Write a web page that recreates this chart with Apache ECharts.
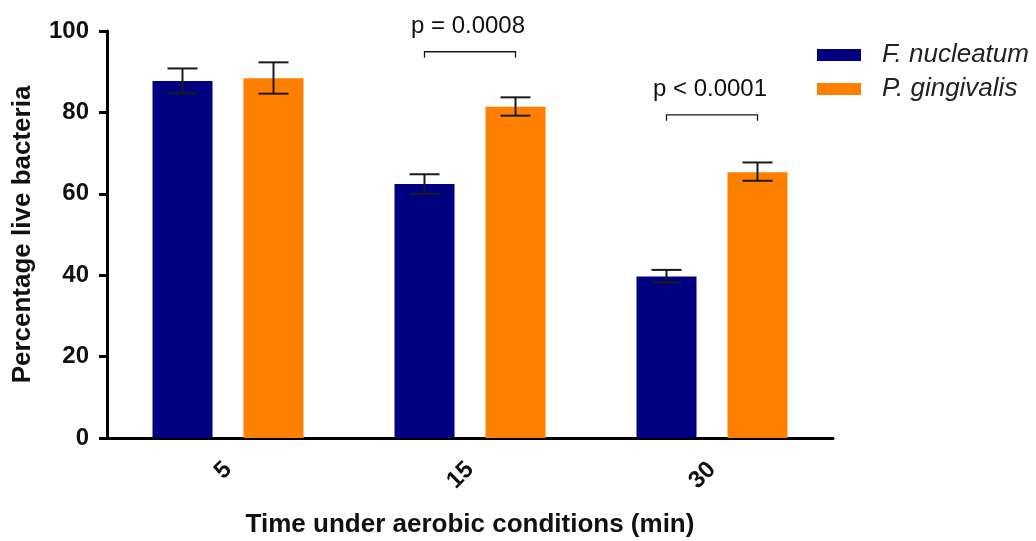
<!DOCTYPE html>
<html>
<head>
<meta charset="utf-8">
<title>Percentage live bacteria</title>
<script src="https://cdn.jsdelivr.net/npm/echarts@6/dist/echarts.min.js"></script>
<style>
  html, body { margin: 0; padding: 0; background: #fff; }
  #chart { width: 1036px; height: 541px; }
</style>
</head>
<body>
<div id="chart"></div>
<script>
// Exposure times (min)
const categories = ['5', '15', '30'];
const seriesNames = ['F. nucleatum', 'P. gingivalis'];

// Mean percentage of live bacteria
const fnMean = [87.7, 62.4, 39.7];
const pgMean = [88.4, 81.4, 65.3];
// Error bar extents (lower, upper)
const fnLow = [84.7, 60.0, 38.2];
const fnHigh = [90.8, 64.8, 41.3];
const pgLow = [84.6, 79.2, 63.2];
const pgHigh = [92.3, 83.7, 67.7];

// Significance brackets: category index, bracket height, label
const compCategory = [1, 2];
const compLevel = [94.9, 79.4];
const compLabel = ['p = 0.0008', 'p < 0.0001'];

const yTicks = [0, 20, 40, 60, 80, 100];

const colors = ['#000080', '#FF8000'];
const FONT = '"Liberation Sans", Arial, sans-serif';
const BAR_W = 60;
const BAR_GAP = 31;
const barOffset = (BAR_W + BAR_GAP) / 2;

const chart = echarts.init(document.getElementById('chart'));

function errorBarSeries(low, high, side) {
  return {
    type: 'custom',
    silent: true,
    z: 5,
    data: categories.map((c, i) => [i, low[i], high[i]]),
    renderItem: function (params, api) {
      const i = api.value(0);
      const lo = api.coord([i, api.value(1)]);
      const hi = api.coord([i, api.value(2)]);
      const x = lo[0] + side * barOffset;
      const hw = BAR_W / 4;
      const st = { stroke: '#1a1a1a', lineWidth: 2 };
      return {
        type: 'group',
        children: [
          { type: 'line', shape: { x1: x, y1: lo[1], x2: x, y2: hi[1] }, style: st },
          { type: 'line', shape: { x1: x - hw, y1: lo[1], x2: x + hw, y2: lo[1] }, style: st },
          { type: 'line', shape: { x1: x - hw, y1: hi[1], x2: x + hw, y2: hi[1] }, style: st }
        ]
      };
    }
  };
}

const bracketSeries = {
  type: 'custom',
  silent: true,
  z: 5,
  data: compCategory.map((c, k) => [c, compLevel[k]]),
  renderItem: function (params, api) {
    const i = api.value(0);
    const p = api.coord([i, api.value(1)]);
    const x1 = p[0] - barOffset;
    const x2 = p[0] + barOffset;
    const y = p[1];
    const st = { stroke: '#1a1a1a', lineWidth: 1.3, fill: null };
    return {
      type: 'group',
      children: [
        { type: 'polyline', shape: { points: [[x1, y + 6], [x1, y], [x2, y], [x2, y + 6]] }, style: st },
        {
          type: 'text',
          style: {
            text: compLabel[params.dataIndex],
            x: p[0] - 2,
            y: y - 25,
            align: 'center',
            verticalAlign: 'middle',
            font: '24px ' + FONT,
            fill: '#111'
          }
        }
      ]
    };
  }
};

const option = {
  animation: false,
  backgroundColor: '#fff',
  grid: { left: 107, right: 203, top: 31, bottom: 103, containLabel: false, outerBoundsMode: 'none' },
  legend: {
    data: seriesNames,
    orient: 'vertical',
    left: 812,
    top: 37,
    itemWidth: 44,
    itemHeight: 12,
    itemGap: 8,
    icon: 'rect',
    textStyle: { fontFamily: FONT, fontSize: 26, fontStyle: 'italic', color: '#222', padding: [0, 0, 0, 16] }
  },
  xAxis: {
    type: 'category',
    data: categories,
    name: 'Time under aerobic conditions (min)',
    nameLocation: 'middle',
    nameGap: 74,
    nameTextStyle: { fontFamily: FONT, fontSize: 26, fontWeight: 'bold', color: '#111' },
    axisLine: { lineStyle: { color: '#000', width: 3 } },
    axisTick: { alignWithLabel: true, length: 8, lineStyle: { color: '#000', width: 3 } },
    axisLabel: { rotate: 45, margin: 28, fontFamily: FONT, fontSize: 24, fontWeight: 'bold', color: '#111' }
  },
  yAxis: {
    type: 'value',
    min: 0,
    max: 100,
    interval: 20,
    name: 'Percentage live bacteria',
    nameLocation: 'middle',
    nameRotate: 90,
    nameGap: 71,
    nameTextStyle: { fontFamily: FONT, fontSize: 26, fontWeight: 'bold', color: '#111' },
    splitLine: { show: false },
    axisLine: { show: true, lineStyle: { color: '#000', width: 3 } },
    axisTick: { show: true, length: 8, lineStyle: { color: '#000', width: 3 } },
    axisLabel: {
      margin: 18,
      fontFamily: FONT, fontSize: 24, fontWeight: 'bold', color: '#111',
      formatter: v => (yTicks.indexOf(v) >= 0 ? String(v) : '')
    }
  },
  series: [
    {
      name: seriesNames[0], type: 'bar', data: fnMean,
      barWidth: BAR_W, barGap: (BAR_GAP / BAR_W * 100) + '%',
      itemStyle: { color: colors[0] }
    },
    {
      name: seriesNames[1], type: 'bar', data: pgMean,
      barWidth: BAR_W,
      itemStyle: { color: colors[1] }
    },
    errorBarSeries(fnLow, fnHigh, -1),
    errorBarSeries(pgLow, pgHigh, 1),
    bracketSeries
  ]
};

chart.setOption(option);
</script>
</body>
</html>
